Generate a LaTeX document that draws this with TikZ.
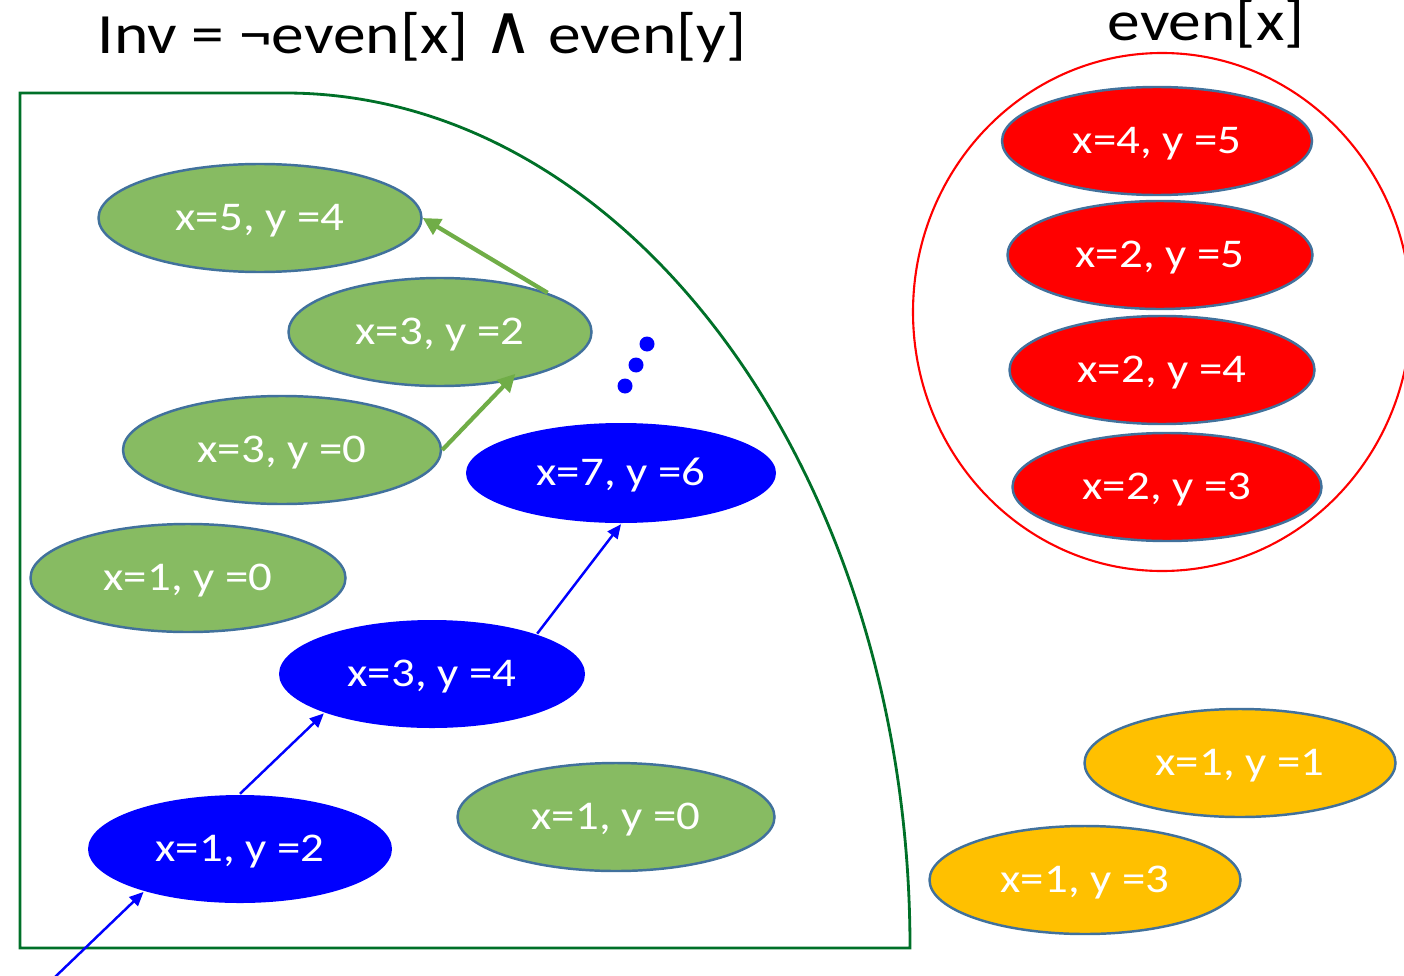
\documentclass[tikz,border=0pt]{standalone}
\usepackage{fontspec}
\setmainfont{Carlito}[FakeStretch=1.15]
\newfontfamily\logicfont{DejaVu Sans}
\definecolor{invgreen}{RGB}{135,187,98}
\definecolor{invedge}{RGB}{65,113,156}
\definecolor{invarrow}{RGB}{112,173,71}
\definecolor{invline}{RGB}{0,112,40}
\definecolor{invyellow}{RGB}{255,192,0}
\usepackage{tikz}
\usetikzlibrary{arrows.meta,positioning,shapes.geometric}

\begin{document}
\begin{tikzpicture}[every node/.style={font=\fontsize{11.6}{14}\selectfont},
    st/.style={ellipse,draw=invedge,line width=0.7pt,minimum width=3.1cm,
               minimum height=1.08cm,inner sep=0pt,text=white,
               text height=1.5ex,text depth=0pt},
    good/.style={st,fill=invgreen},
    reach/.style={st,draw=none,fill=blue},
    bad/.style={st,fill=red},
    other/.style={st,fill=invyellow},
    title/.style={anchor=base,font=\fontsize{16.2}{20}\selectfont},
    garr/.style={-{Triangle[length=5pt,width=5pt]},line width=1.2pt,invarrow},
    barr/.style={-{Triangle[length=4pt,width=3.5pt]},line width=0.7pt,blue}]

  \useasboundingbox (0,0) rectangle (14.04,9.75);

  % invariant region
  \draw[invline,line width=0.8pt] (0.20,0.27) -- (0.20,8.82) -- (2.85,8.82)
        arc[start angle=90,end angle=0,x radius=6.25,y radius=8.55] -- cycle;
  \draw[red,line width=0.6pt] (11.62,6.63) ellipse[x radius=2.49,y radius=2.59];

  \node[title] (inv)  at (4.22,9.21)
        {Inv = ¬even[x] {\logicfont\fontsize{19.5}{20}\selectfont ∧} even[y]};
  \node[title] (evx)  at (12.06,9.34) {even[x]};

  \node[good,minimum width=3.23cm] (g54)  at (2.60,7.57) {x=5, y =4};
  \node[good,minimum width=3.03cm] (g32)  at (4.40,6.43) {x=3, y =2};
  \node[good,minimum width=3.18cm] (g30)  at (2.82,5.25) {x=3, y =0};
  \node[good,minimum width=3.15cm] (g10a) at (1.88,3.97) {x=1, y =0};
  \node[good,minimum width=3.17cm] (g10b) at (6.16,1.58) {x=1, y =0};

  \node[reach,minimum height=1.00cm] (b76) at (6.21,5.02) {x=7, y =6};
  \node[reach,minimum width=3.06cm]  (b34) at (4.32,3.01) {x=3, y =4};
  \node[reach,minimum width=3.04cm]  (b12) at (2.40,1.26) {x=1, y =2};

  \node[bad]                       (r45) at (11.57,8.34) {x=4, y =5};
  \node[bad,minimum width=3.05cm]  (r25) at (11.60,7.20) {x=2, y =5};
  \node[bad,minimum width=3.05cm]  (r24) at (11.62,6.05) {x=2, y =4};
  \node[bad,minimum width=3.09cm]  (r23) at (11.67,4.88) {x=2, y =3};

  \node[other,minimum width=3.11cm] (y11) at (12.40,2.12) {x=1, y =1};
  \node[other,minimum width=3.11cm] (y13) at (10.85,0.95) {x=1, y =3};

  \coordinate (init) at (0.55,-0.02);

  \fill[blue] (6.47,6.31) circle (0.075) (6.36,6.10) circle (0.075)
              (6.25,5.89) circle (0.075);

  \draw[garr] (g32.20) -- (g54.east);
  \draw[garr,shorten >=-3pt] (g30.east) -- (g32.-36);
  \draw[barr] (init) -- (b12.204);
  \draw[barr] (b12.north) -- (b34.200);
  \draw[barr] (b34.21) -- (b76.south);
\end{tikzpicture}
\end{document}
